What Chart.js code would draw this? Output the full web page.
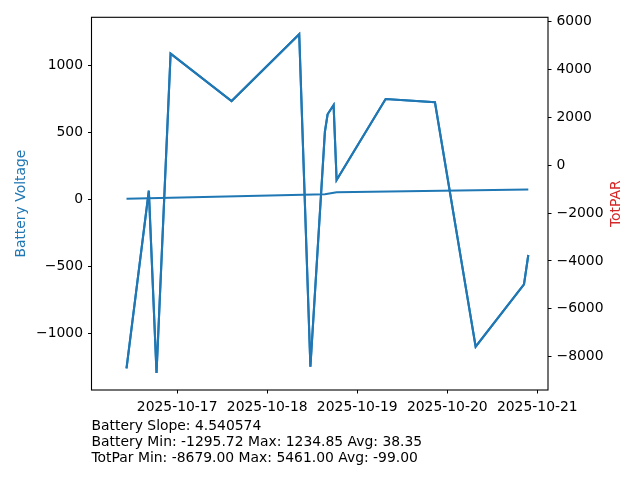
<!DOCTYPE html>
<html>
<head>
<meta charset="utf-8">
<script src="https://cdn.jsdelivr.net/npm/chart.js@4.4.1/dist/chart.umd.min.js"></script>
<style>
  html, body { margin: 0; padding: 0; background: #ffffff; }
  #wrap { width: 640px; height: 480px; position: relative; }
</style>
</head>
<body>
<div id="wrap"><canvas id="c" width="640" height="480"></canvas></div>
<script>
// ---- data ----
const sampleTimes = [
  '2025-10-16 10:30', '2025-10-16 16:27', '2025-10-16 18:30', '2025-10-16 22:15',
  '2025-10-17 14:30', '2025-10-18 08:32', '2025-10-18 11:31', '2025-10-18 15:23',
  '2025-10-18 16:06', '2025-10-18 17:42', '2025-10-18 18:30', '2025-10-19 07:34',
  '2025-10-19 20:43', '2025-10-20 07:34', '2025-10-20 20:27', '2025-10-20 21:36'
];
const batteryVoltage = [-1260, 66, -1295.72, 1090, 736, 1234.85, -1248, 507, 637, 706, 146, 751, 727, -1099, -633, -414];
const totPar = [-8481, -1069, -8679, 4649, 2675, 5461, -8415, 1393, 2120, 2508, -622, 2758, 2620, -7580, -4976, -3753];
const trendTimes = ['2025-10-16 10:30', '2025-10-18 15:23', '2025-10-18 18:30', '2025-10-20 21:36'];
const trendValues = [6, 40, 55, 75];
const dateTickLabels = ['2025-10-17', '2025-10-18', '2025-10-19', '2025-10-20', '2025-10-21'];
const batteryTicks = [-1000, -500, 0, 500, 1000];
const totParTicks = [-8000, -6000, -4000, -2000, 0, 2000, 4000, 6000];
const statsLines = [
  'Battery Slope: 4.540574',
  'Battery Min: -1295.72 Max: 1234.85 Avg: 38.35',
  'TotPar Min: -8679.00 Max: 5461.00 Avg: -99.00'
];
const xRange = ['2025-10-16 01:10', '2025-10-21 02:51'];
const batteryRange = [-1422.25, 1361.38];
const totParRange = [-9386, 6168];

// ---- helpers ----
function toMs(s) {
  const [d, t] = s.split(' ');
  const [Y, M, D] = d.split('-').map(Number);
  const [h, m] = (t || '00:00').split(':').map(Number);
  return Date.UTC(Y, M - 1, D, h, m);
}
function fmtDate(ms) {
  const d = new Date(ms);
  const p = n => String(n).padStart(2, '0');
  return d.getUTCFullYear() + '-' + p(d.getUTCMonth() + 1) + '-' + p(d.getUTCDate());
}
const minus = v => String(v).replace('-', '\u2212');

const BLUE = '#1f77b4';
const FONT = 'DejaVu Sans';
const FS = 13.9;
Chart.defaults.font.family = FONT;
Chart.defaults.font.size = FS;
Chart.defaults.color = '#000';

const pts = (xs, ys) => xs.map((t, i) => ({ x: toMs(t), y: ys[i] }));

const framePlugin = {
  id: 'frame',
  afterDraw(chart) {
    const { ctx, chartArea: a } = chart;
    ctx.save();
    ctx.strokeStyle = '#000';
    ctx.lineWidth = 1.1;
    ctx.strokeRect(a.left, a.top, a.right - a.left, a.bottom - a.top);
    // right axis title (reads bottom-to-top like the reference)
    ctx.fillStyle = '#d62728';
    ctx.font = FS + 'px "' + FONT + '"';
    ctx.textAlign = 'center';
    ctx.textBaseline = 'middle';
    ctx.translate(616, (a.top + a.bottom) / 2);
    ctx.rotate(-Math.PI / 2);
    ctx.fillText('TotPAR', 0, 0);
    ctx.restore();
    // stats text
    ctx.save();
    ctx.fillStyle = '#000';
    ctx.font = FS + 'px "' + FONT + '"';
    ctx.textAlign = 'left';
    ctx.textBaseline = 'alphabetic';
    statsLines.forEach((s, i) => ctx.fillText(s, 91.5, 429.5 + i * 16));
    ctx.restore();
  }
};

new Chart(document.getElementById('c'), {
  type: 'line',
  data: {
    datasets: [
      { label: 'Battery Voltage', data: pts(sampleTimes, batteryVoltage), yAxisID: 'y',
        borderColor: BLUE, borderWidth: 2.1, pointRadius: 0, tension: 0, fill: false },
      { label: 'Battery Trend', data: pts(trendTimes, trendValues), yAxisID: 'y',
        borderColor: BLUE, borderWidth: 2.1, pointRadius: 0, tension: 0, fill: false },
      { label: 'TotPAR', data: pts(sampleTimes, totPar), yAxisID: 'y2',
        borderColor: BLUE, borderWidth: 2.1, pointRadius: 0, tension: 0, fill: false }
    ]
  },
  options: {
    responsive: false,
    animation: false,
    layout: { padding: { top: 17.3, left: 0, right: 0, bottom: 0 } },
    plugins: { legend: { display: false }, tooltip: { enabled: false } },
    scales: {
      x: {
        type: 'linear',
        min: toMs(xRange[0]),
        max: toMs(xRange[1]),
        afterBuildTicks: s => { s.ticks = dateTickLabels.map(d => ({ value: toMs(d) })); },
        ticks: { callback: v => fmtDate(v), maxRotation: 0, autoSkip: false, padding: 5.5, color: '#000' },
        grid: { drawOnChartArea: false, drawTicks: true, tickLength: 3.5, color: '#000', lineWidth: 1 },
        border: { display: false },
        afterFit: s => { s.height = 90; }
      },
      y: {
        position: 'left',
        min: batteryRange[0],
        max: batteryRange[1],
        afterBuildTicks: s => { s.ticks = batteryTicks.map(v => ({ value: v })); },
        ticks: { callback: v => minus(v), padding: 5, color: '#000' },
        grid: { drawOnChartArea: false, drawTicks: true, tickLength: 3.5, color: '#000', lineWidth: 1 },
        border: { display: false },
        title: { display: true, text: 'Battery Voltage', color: BLUE, font: { size: FS, family: FONT }, padding: { top: 12.7, bottom: 0 } },
        afterFit: s => { s.width = 91.5; }
      },
      y2: {
        position: 'right',
        min: totParRange[0],
        max: totParRange[1],
        afterBuildTicks: s => { s.ticks = totParTicks.map(v => ({ value: v })); },
        ticks: { callback: v => minus(v), padding: 5, color: '#000' },
        grid: { drawOnChartArea: false, drawTicks: true, tickLength: 3.5, color: '#000', lineWidth: 1 },
        border: { display: false },
        afterFit: s => { s.width = 92; }
      }
    }
  },
  plugins: [framePlugin]
});
</script>
</body>
</html>
